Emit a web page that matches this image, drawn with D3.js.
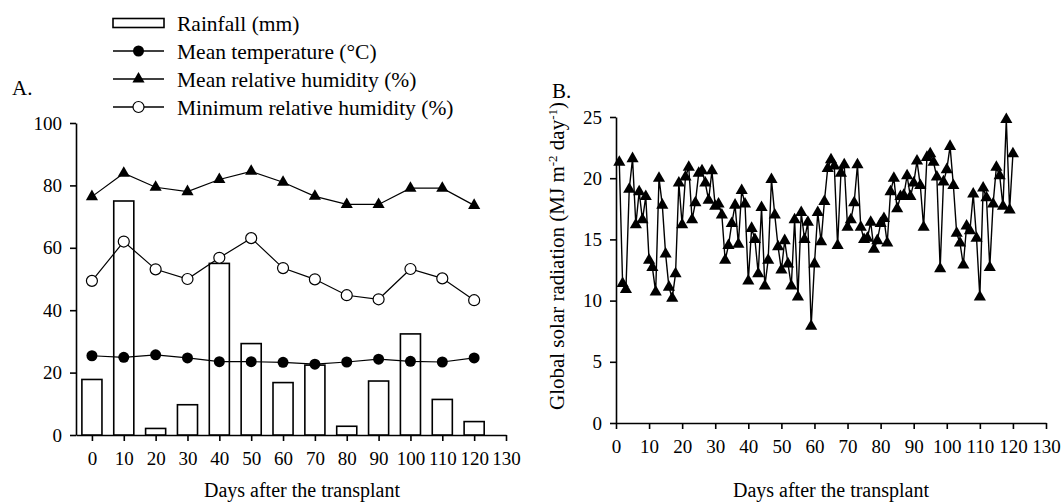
<!DOCTYPE html>
<html>
<head>
<meta charset="utf-8">
<script src="https://cdn.jsdelivr.net/npm/d3@7"></script>
<style>
  body { margin: 0; background: #fff; }
  svg text { font-family: "Liberation Serif", "Times New Roman", serif; fill: #000; }
</style>
</head>
<body>
<div id="chart"></div>
<script>
// panel A data (every 10 days)
const daysA = [0, 10, 20, 30, 40, 50, 60, 70, 80, 90, 100, 110, 120];
const rainfall = [17.8, 75.0, 2.1, 9.7, 55.0, 29.3, 16.8, 22.4, 2.8, 17.3, 32.4, 11.4, 4.3];
const meanTemp = [25.4, 24.9, 25.7, 24.7, 23.5, 23.5, 23.3, 22.7, 23.4, 24.3, 23.6, 23.4, 24.7];
const meanRH = [76.4, 83.9, 79.4, 78.0, 81.9, 84.5, 81.0, 76.5, 73.9, 73.9, 79.1, 79.1, 73.6];
const minRH = [49.4, 62.0, 53.1, 50.0, 56.8, 63.1, 53.5, 49.9, 44.8, 43.5, 53.2, 50.2, 43.2];

// panel B data (daily, day 1 to 120)
const radiation = [
  21.3, 11.4, 10.9, 19.1, 21.6, 16.2, 18.9, 16.6, 18.5, 13.3,
  12.7, 10.7, 20.0, 17.8, 13.8, 11.1, 10.2, 12.2, 19.6, 16.2,
  20.1, 20.9, 16.6, 18.0, 20.4, 20.6, 19.6, 18.2, 20.6, 17.7,
  17.9, 17.0, 13.3, 14.5, 16.3, 17.8, 14.6, 19.0, 17.9, 11.6,
  15.9, 15.0, 12.2, 17.6, 11.2, 13.3, 19.9, 17.0, 14.4, 12.5,
  14.9, 13.0, 11.2, 16.6, 10.3, 17.2, 15.0, 16.4, 7.9, 13.0,
  17.2, 14.8, 18.1, 20.8, 21.5, 21.0, 14.5, 20.4, 21.1, 16.0,
  16.6, 18.0, 21.1, 16.0, 15.0, 15.1, 16.4, 14.2, 14.9, 16.3,
  16.7, 14.7, 18.9, 20.0, 17.5, 18.5, 18.6, 20.2, 18.5, 19.6,
  21.4, 19.4, 16.0, 21.7, 22.0, 21.3, 20.1, 12.6, 19.7, 20.7,
  22.6, 19.4, 15.5, 14.7, 12.9, 16.1, 15.7, 18.7, 15.1, 10.3,
  19.2, 18.4, 12.7, 17.9, 20.9, 20.2, 17.7, 24.8, 17.4, 22.0
];

const xTicks = [0, 10, 20, 30, 40, 50, 60, 70, 80, 90, 100, 110, 120, 130];
const yTicksA = [0, 20, 40, 60, 80, 100];
const yTicksB = [0, 5, 10, 15, 20, 25];
const legendLabels = ["Rainfall (mm)", "Mean temperature (\u00B0C)", "Mean relative humidity (%)", "Minimum relative humidity (%)"];

const width = 1062, height = 503;

const svg = d3.select("#chart").append("svg")
    .attr("width", width)
    .attr("height", height);

const tri = d3.symbol().type(d3.symbolTriangle).size(64);

function styleAxis(g) {
  g.selectAll("path.domain").attr("stroke", "#000").attr("stroke-width", 1.6);
  g.selectAll(".tick line").attr("stroke", "#000").attr("stroke-width", 1.6);
  g.selectAll(".tick text").attr("font-size", "19px").attr("font-family", "Liberation Serif");
}

// ---------- panel A ----------
const xA = d3.scaleLinear().domain([-5, 130]).range([76, 506]);
const yA = d3.scaleLinear().domain([0, 100]).range([435, 123]);

svg.append("g")
    .attr("transform", `translate(0,${yA(0)})`)
    .call(d3.axisBottom(xA).tickValues(xTicks).tickSizeInner(6).tickSizeOuter(0).tickPadding(11))
    .call(styleAxis);

svg.append("g")
    .attr("transform", `translate(${xA(-5)},0)`)
    .call(d3.axisLeft(yA).tickValues(yTicksA).tickSizeInner(6).tickSizeOuter(0).tickPadding(8))
    .call(styleAxis);

const barW = xA(6.3) - xA(0);
svg.append("g").selectAll("rect")
    .data(daysA)
    .join("rect")
    .attr("x", (d) => xA(d) - barW / 2)
    .attr("y", (d, i) => yA(rainfall[i]))
    .attr("width", barW)
    .attr("height", (d, i) => yA(0) - yA(rainfall[i]))
    .attr("fill", "#fff")
    .attr("stroke", "#000")
    .attr("stroke-width", 1.6);

const lineA = d3.line().x((d) => xA(d[0])).y((d) => yA(d[1]));
[meanTemp, meanRH, minRH].forEach((s) => {
  svg.append("path")
      .datum(daysA.map((d, i) => [d, s[i]]))
      .attr("d", lineA)
      .attr("fill", "none")
      .attr("stroke", "#000")
      .attr("stroke-width", 1.2);
});

svg.append("g").selectAll("circle")
    .data(daysA)
    .join("circle")
    .attr("cx", (d) => xA(d))
    .attr("cy", (d, i) => yA(meanTemp[i]))
    .attr("r", 5.5)
    .attr("fill", "#000");

svg.append("g").selectAll("path")
    .data(daysA)
    .join("path")
    .attr("d", tri)
    .attr("transform", (d, i) => `translate(${xA(d)},${yA(meanRH[i])})`)
    .attr("fill", "#000");

svg.append("g").selectAll("circle")
    .data(daysA)
    .join("circle")
    .attr("cx", (d) => xA(d))
    .attr("cy", (d, i) => yA(minRH[i]))
    .attr("r", 5.5)
    .attr("fill", "#fff")
    .attr("stroke", "#000")
    .attr("stroke-width", 1.2);

svg.append("text")
    .attr("x", 302)
    .attr("y", 497)
    .attr("text-anchor", "middle")
    .attr("font-size", "20px")
    .text("Days after the transplant");

svg.append("text")
    .attr("x", 12)
    .attr("y", 95)
    .attr("font-size", "21px")
    .text("A.");

// legend
const legend = svg.append("g");
legendLabels.forEach((lab, i) => {
  const cy = 23 + i * 28;
  const row = legend.append("g");
  if (i === 0) {
    row.append("rect")
        .attr("x", 113).attr("y", cy - 4.5)
        .attr("width", 51).attr("height", 9)
        .attr("fill", "#fff").attr("stroke", "#000").attr("stroke-width", 1.6);
  } else {
    row.append("line")
        .attr("x1", 113).attr("x2", 164).attr("y1", cy).attr("y2", cy)
        .attr("stroke", "#000").attr("stroke-width", 1.3);
    if (i === 1) {
      row.append("circle").attr("cx", 138.5).attr("cy", cy).attr("r", 5.5).attr("fill", "#000");
    } else if (i === 2) {
      row.append("path").attr("d", tri).attr("transform", `translate(138.5,${cy})`).attr("fill", "#000");
    } else {
      row.append("circle").attr("cx", 138.5).attr("cy", cy).attr("r", 5.5)
          .attr("fill", "#fff").attr("stroke", "#000").attr("stroke-width", 1.2);
    }
  }
  row.append("text")
      .attr("x", 177).attr("y", cy)
      .attr("dy", "0.35em")
      .attr("font-size", "21.5px")
      .text(lab);
});

// ---------- panel B ----------
const xB = d3.scaleLinear().domain([0, 130]).range([616, 1046]);
const yB = d3.scaleLinear().domain([0, 25]).range([423, 117]);

svg.append("g")
    .attr("transform", `translate(0,${yB(0)})`)
    .call(d3.axisBottom(xB).tickValues(xTicks).tickSizeInner(6).tickSizeOuter(0).tickPadding(11))
    .call(styleAxis);

svg.append("g")
    .attr("transform", `translate(${xB(0)},0)`)
    .call(d3.axisLeft(yB).tickValues(yTicksB).tickSizeInner(6).tickSizeOuter(0).tickPadding(8))
    .call(styleAxis);

const radPts = radiation.map((v, i) => [i + 1, v]);

svg.append("path")
    .datum(radPts)
    .attr("d", d3.line().x((d) => xB(d[0])).y((d) => yB(d[1])))
    .attr("fill", "none")
    .attr("stroke", "#000")
    .attr("stroke-width", 1.4);

svg.append("g").selectAll("path")
    .data(radPts)
    .join("path")
    .attr("d", tri)
    .attr("transform", (d) => `translate(${xB(d[0])},${yB(d[1])})`)
    .attr("fill", "#000");

svg.append("text")
    .attr("x", 831)
    .attr("y", 497)
    .attr("text-anchor", "middle")
    .attr("font-size", "20px")
    .text("Days after the transplant");

const yLab = svg.append("text")
    .attr("transform", `translate(564,256) rotate(-90)`)
    .attr("text-anchor", "middle")
    .attr("font-size", "21px");
yLab.append("tspan").text("Global solar radiation  (MJ m");
yLab.append("tspan").attr("baseline-shift", "super").attr("font-size", "13px").text("-2");
yLab.append("tspan").text(" day");
yLab.append("tspan").attr("baseline-shift", "super").attr("font-size", "13px").text("-1");
yLab.append("tspan").text(")");

svg.append("text")
    .attr("x", 552)
    .attr("y", 98)
    .attr("font-size", "21px")
    .text("B.");
</script>
</body>
</html>
